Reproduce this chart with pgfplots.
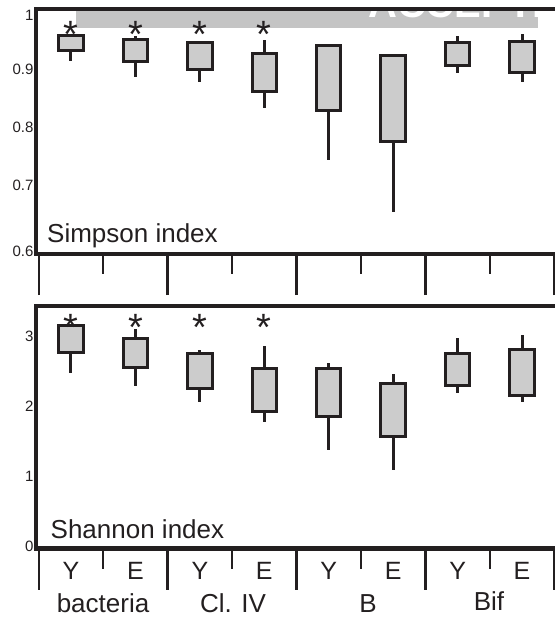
\documentclass[border=0pt]{standalone}
\usepackage{fontspec}
\setmainfont{Liberation Sans}
\usepackage{pgfplots}
\pgfplotsset{compat=1.18}
\usepgfplotslibrary{statistics}
\definecolor{ink}{HTML}{231F20}
\definecolor{boxg}{HTML}{CCCCCC}
\definecolor{bandg}{HTML}{C4C4C4}
\pgfplotsset{
  panel/.style={
    scale only axis, width=519bp, xmin=0.457, xmax=8.512,
    axis line style={draw=none},
    tick align=outside, tick pos=left,
    xtick={1,2,3,4,5,6,7,8}, major tick length=0pt,
    extra x ticks={0.5,2.5,4.5,6.5,8.5}, extra x tick labels={},
    extra x tick style={major tick length=41bp},
    minor xtick={1.5,3.5,5.5,7.5}, minor tick length=20bp,
    x tick style={line width=2.5bp, draw=ink},
    ytick style={draw=none},
    /pgf/number format/assume math mode=true,
    boxplot/draw direction=y,
    clip=false,
  },
  bx/.style={draw=ink, fill=boxg, line width=3bp, solid, mark=none},
}
\tikzset{
  star/.style={anchor=base, inner sep=0pt, text=ink, font=\fontsize{38bp}{38bp}\selectfont},
  big/.style={inner sep=0pt, text=ink, font=\fontsize{26bp}{26bp}\selectfont},
  ylab/.style={font=\fontsize{15bp}{15bp}\selectfont, text=ink, xshift=1bp},
}
\newcommand{\bp}[5]{\addplot[bx, boxplot prepared={lower whisker=#2, lower quartile=#3, median=#4, upper quartile=#4, upper whisker=#5, draw position=#1, box extend=0.38, whisker extend=0}] coordinates {};}
\begin{document}
\begin{tikzpicture}
\useasboundingbox (0,0) rectangle (555bp,624bp);
% watermark band
\fill[bandg] (76bp,596bp) rectangle (538bp,614bp);
\begin{scope}
\clip (76bp,596bp) rectangle (538bp,614bp);
\node[anchor=base west, inner sep=0pt, text=white, font=\bfseries\fontsize{40bp}{40bp}\selectfont] at (368bp,606bp) {ACCEPTED};
\end{scope}
% top panel: Simpson
\begin{axis}[panel, at={(36bp,370bp)}, anchor=south west, height=245bp,
  ymin=0.581, ymax=1.0034,
  ytick={0.585,0.7,0.8,0.9,0.992}, yticklabels={0.6,0.7,0.8,0.9,1},
  y tick label style={ylab},
  xticklabels={}]
\bp{1}{0.913}{0.931}{0.957}{0.960}
\bp{2}{0.886}{0.913}{0.950}{0.956}
\bp{3}{0.878}{0.8995}{0.946}{0.947}
\bp{4}{0.832}{0.862}{0.927}{0.950}
\bp{5}{0.743}{0.829}{0.940}{0.940}
\bp{6}{0.654}{0.775}{0.923}{0.923}
\bp{7}{0.893}{0.906}{0.945}{0.957}
\bp{8}{0.877}{0.894}{0.948}{0.960}
\node[star] at (axis cs:1,0.937) {*};
\node[star] at (axis cs:2,0.937) {*};
\node[star] at (axis cs:3,0.937) {*};
\node[star] at (axis cs:4,0.937) {*};
\draw[ink, line width=4bp] (rel axis cs:1.02,1) -- (rel axis cs:0,1) -- (rel axis cs:0,0) -- (rel axis cs:1.02,0);
\end{axis}
\node[big, anchor=base west] at (47bp,381bp) {Simpson index};
% bottom panel: Shannon
\begin{axis}[panel, at={(36bp,75.5bp)}, anchor=south west, height=242bp,
  ymin=-0.026, ymax=3.431, ytick={0,1,2,3},
  y tick label style={ylab},
  xticklabels={Y,E,Y,E,Y,E,Y,E},
  x tick label style={anchor=base, yshift=-30.5bp, text=ink, font=\fontsize{25bp}{25bp}\selectfont}]
\bp{1}{2.477}{2.777}{3.157}{3.160}
\bp{2}{2.296}{2.563}{2.977}{3.106}
\bp{3}{2.071}{2.263}{2.763}{2.810}
\bp{4}{1.786}{1.929}{2.549}{2.867}
\bp{5}{1.381}{1.857}{2.549}{2.620}
\bp{6}{1.096}{1.571}{2.334}{2.467}
\bp{7}{2.191}{2.300}{2.763}{2.977}
\bp{8}{2.071}{2.157}{2.820}{3.024}
\node[star] at (axis cs:1,2.944) {*};
\node[star] at (axis cs:2,2.944) {*};
\node[star] at (axis cs:3,2.944) {*};
\node[star] at (axis cs:4,2.944) {*};
\draw[ink, line width=4bp] (rel axis cs:1.02,1) -- (rel axis cs:0,1) -- (rel axis cs:0,0) -- (rel axis cs:1.02,0);
\end{axis}
\node[big, anchor=base west] at (50.5bp,85bp) {Shannon index};
\node[big, anchor=base] at (103bp,12bp) {bacteria};
\node[big, anchor=base] at (233bp,12bp) {Cl. IV};
\node[big, anchor=base] at (368bp,12bp) {B};
\node[big, anchor=base] at (489bp,14bp) {Bif};
\end{tikzpicture}
\end{document}
